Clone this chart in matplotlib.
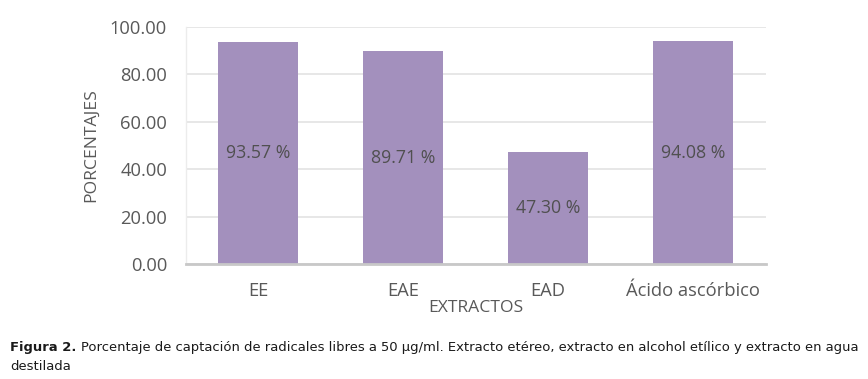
import matplotlib
matplotlib.use('Agg')
import matplotlib.pyplot as plt

plt.rcParams['font.family'] = ['Open Sans', 'DejaVu Sans']

categorias = ['EE', 'EAE', 'EAD', 'Ácido ascórbico']
porcentajes = [93.57, 89.71, 47.30, 94.08]
ticks = [0, 20, 40, 60, 80, 100]

fig = plt.figure(figsize=(8.68, 3.79), dpi=100)
ax = fig.add_axes([0.214, 0.303, 0.668, 0.626])

x = range(len(categorias))
bars = ax.bar(x, porcentajes, width=0.55, color='#a390bd', zorder=3)

for b, v in zip(bars, porcentajes):
    ax.text(b.get_x() + b.get_width() / 2, v / 2, f'{v:.2f} %',
            ha='center', va='center', fontsize=12.8, color='#505050', zorder=4)

ax.set_xlim(-0.5, len(categorias) - 0.5)
ax.set_ylim(0, 100)
ax.set_yticks(ticks)
ax.set_yticklabels([f'{t:.2f}' for t in ticks], fontsize=13.2, color='#595959')
ax.set_xticks(list(x))
ax.set_xticklabels(categorias, fontsize=13.2, color='#595959')
ax.tick_params(length=0)
ax.tick_params(axis='y', pad=13.5)
ax.tick_params(axis='x', pad=12.5)

ax.yaxis.grid(True, color='#e3e3e3', linewidth=1.2, zorder=0)
for s in ['top', 'right']:
    ax.spines[s].set_visible(False)
ax.spines['left'].set_color('#ececec')
ax.spines['left'].set_linewidth(1)
ax.spines['bottom'].set_color('#c8c8c8')
ax.spines['bottom'].set_linewidth(2)
ax.spines['bottom'].set_zorder(5)

ax.set_ylabel('PORCENTAJES', fontsize=12.6, color='#595959', labelpad=8)
ax.set_xlabel('EXTRACTOS', fontsize=12.6, color='#595959', labelpad=0)

# leyenda de la figura (ajustada al ancho de la linea)
cap_font = ['DejaVu Sans']
y1 = 1 - 348 / 379
y2 = 1 - 367 / 379
resto = ('Porcentaje de captación de radicales libres a 50 µg/ml. Extracto etéreo, '
         'extracto en alcohol etílico y extracto en agua')
r = fig.canvas.get_renderer()
fs = 8.0
for _ in range(3):
    t1 = fig.text(10 / 868, y1, 'Figura 2.', fontsize=fs, fontweight='bold',
                  family=cap_font, va='center', color='#1a1a1a')
    bb = t1.get_window_extent(r)
    t2 = fig.text((bb.x1 + fs * 0.45) / 868, y1, resto, fontsize=fs,
                  family=cap_font, va='center', color='#1a1a1a')
    bb2 = t2.get_window_extent(r)
    ancho = bb2.x1 - 10
    t1.remove()
    t2.remove()
    fs = fs * 852 / ancho

t1 = fig.text(10 / 868, y1, 'Figura 2.', fontsize=fs, fontweight='bold',
              family=cap_font, va='center', color='#1a1a1a')
bb = t1.get_window_extent(r)
fig.text((bb.x1 + fs * 0.45) / 868, y1, resto, fontsize=fs,
         family=cap_font, va='center', color='#1a1a1a')
fig.text(10 / 868, y2, 'destilada', fontsize=fs, family=cap_font,
         va='center', color='#1a1a1a')

fig.savefig('out.png', dpi=100)
